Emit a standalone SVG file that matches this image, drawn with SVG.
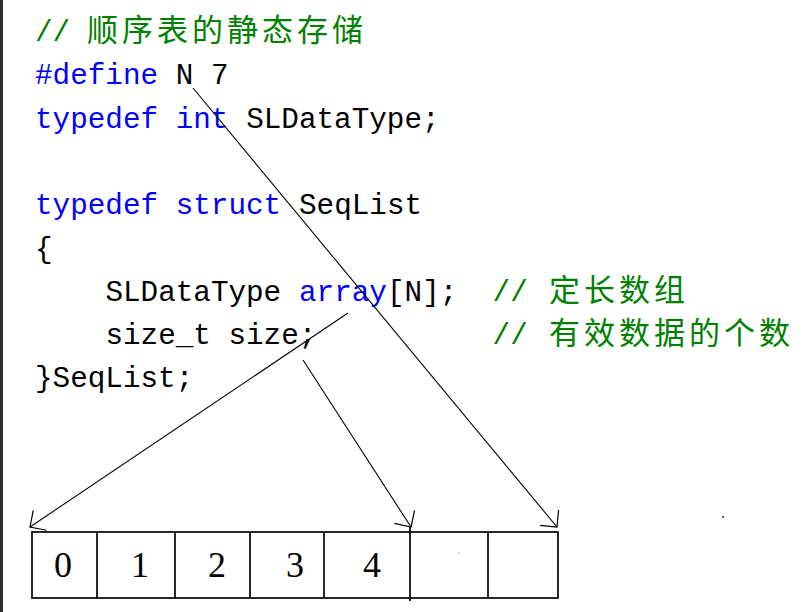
<svg xmlns="http://www.w3.org/2000/svg" width="810" height="612" viewBox="0 0 810 612">
<style>
.m{font-family:"Liberation Mono","DejaVu Sans Mono",monospace;font-size:29.3px;fill:#000}
.k{fill:#0000ff}
.c{fill:#008000}
.cj{font-family:"Noto Sans CJK SC",sans-serif;font-size:31px;letter-spacing:4px;fill:#008000}
.d{font-family:"Liberation Serif",serif;font-size:36px;fill:#000;text-anchor:middle}
.box{fill:none;stroke:#111;stroke-width:1.8}
.cn{fill:none;stroke:#000;stroke-width:1.1}
</style>
<defs>
<marker id="ah" viewBox="-14 -14 16 28" refX="0" refY="0" markerWidth="16" markerHeight="28" markerUnits="userSpaceOnUse" orient="auto">
<path d="M-12,-12 L0,0 L-12,12" fill="none" stroke="#000" stroke-width="1.2"/>
</marker>
</defs>
<rect width="810" height="612" fill="#fff"/>
<rect x="0" y="0" width="3" height="612" fill="#2a2f3a"/>
<g id="code">
<text class="m c" x="35" y="41">//</text>
<text class="cj" x="87" y="41">顺序表的静态存储</text>
<text class="m" x="35" y="84.3"><tspan class="k">#define</tspan><tspan x="175.8">N 7</tspan></text>
<text class="m" x="35" y="127.6"><tspan class="k">typedef int</tspan><tspan x="246.2">SLDataType;</tspan></text>
<text class="m" x="35" y="214.2"><tspan class="k">typedef struct</tspan><tspan x="299">SeqList</tspan></text>
<text class="m" x="35" y="257.5">{</text>
<text class="m" x="105.4" y="300.8">SLDataType<tspan class="k" x="299">array</tspan><tspan x="387">[N];</tspan></text>
<text class="m c" x="492.6" y="300.8">//</text>
<text class="cj" x="549" y="300.8">定长数组</text>
<text class="m" x="105.4" y="344.1">size_t size;</text>
<text class="m c" x="492.6" y="344.1">//</text>
<text class="cj" x="549" y="344.1">有效数据的个数</text>
<text class="m" x="35" y="387.4">}SeqList;</text>
</g>
<g id="array">
<rect class="box" x="32" y="532" width="526" height="66"/>
<line class="box" x1="97" y1="532" x2="97" y2="598"/>
<line class="box" x1="175" y1="532" x2="175" y2="598"/>
<line class="box" x1="250" y1="532" x2="250" y2="598"/>
<line class="box" x1="324" y1="532" x2="324" y2="598"/>
<line class="box" x1="410" y1="527" x2="410" y2="601"/>
<line class="box" x1="488" y1="532" x2="488" y2="598"/>
<text class="d" x="63" y="577">0</text>
<text class="d" x="140" y="577">1</text>
<text class="d" x="217" y="577">2</text>
<text class="d" x="295" y="577">3</text>
<text class="d" x="372" y="577">4</text>
</g>
<g id="connectors">
<line class="cn" x1="193" y1="88" x2="557" y2="527" marker-end="url(#ah)"/>
<line class="cn" x1="348" y1="313" x2="30" y2="527" marker-end="url(#ah)"/>
<line class="cn" x1="303" y1="360" x2="411" y2="527" marker-end="url(#ah)"/>
</g>
<circle cx="723" cy="517" r="1" fill="#333"/>
<circle cx="459" cy="553" r="0.8" fill="#8ab"/>
</svg>
